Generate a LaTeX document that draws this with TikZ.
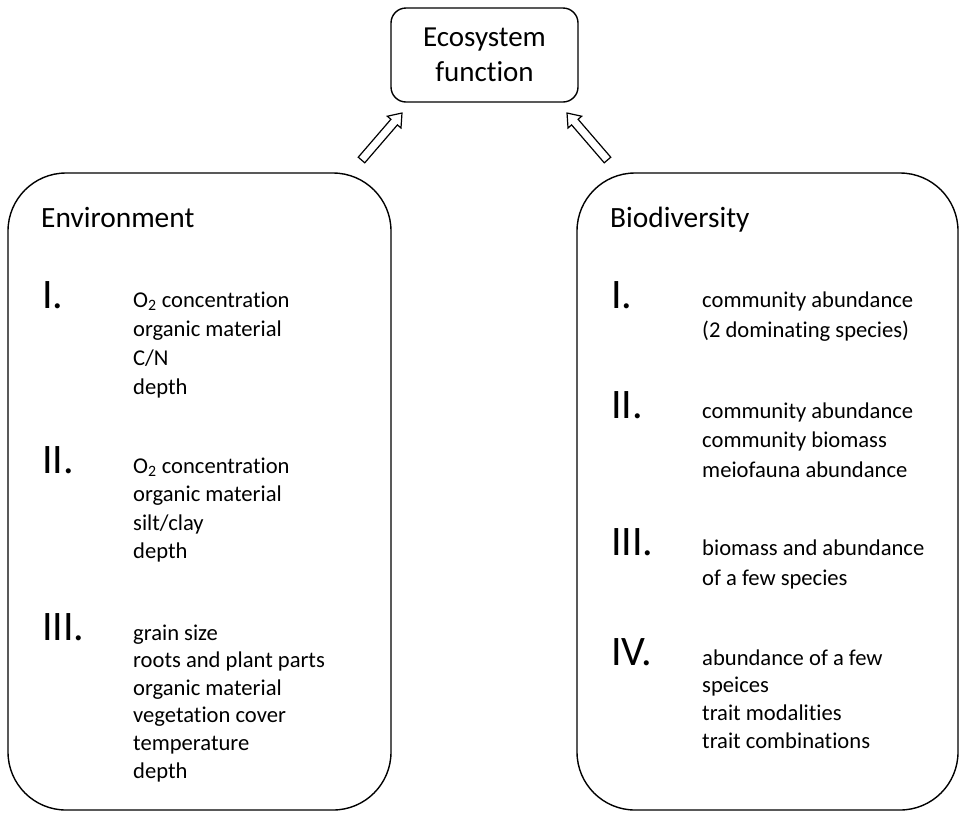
\documentclass[tikz,border=0pt]{standalone}
\usepackage{fontspec}
\setmainfont{Carlito}[Ligatures=NoCommon]
\usetikzlibrary{calc}
\tikzset{
    ecobox/.style={draw, line width=1.4pt, rounded corners=58pt, minimum width=383pt, minimum height=637pt},
    topbox/.style={draw, line width=1.4pt, rounded corners=15pt, minimum width=187pt, minimum height=94pt, align=center, font=\fontsize{29}{35}\selectfont},
    boxhead/.style={anchor=base west, inner sep=0pt, font=\fontsize{29.4}{35}\selectfont},
    numeral/.style={anchor=base west, inner sep=0pt, font=\fontsize{42}{50}\selectfont},
    factor/.style={anchor=base west, inner sep=0pt, font=\fontsize{22.6}{27}\selectfont},
    hollowarrow/.style={line width=1.2pt, line join=miter, to path={
        let \p1=(\tikztostart), \p2=(\tikztotarget),
            \n1={atan2(\y2-\y1,\x2-\x1)}, \n2={veclen(\x2-\x1,\y2-\y1)} in
        ([shift={(\p1)},rotate=\n1]0pt,4.3pt)
        -- ([shift={(\p1)},rotate=\n1]\n2-12pt,4.3pt)
        -- ([shift={(\p1)},rotate=\n1]\n2-12pt,9pt)
        -- ([shift={(\p1)},rotate=\n1]\n2,0pt)
        -- ([shift={(\p1)},rotate=\n1]\n2-12pt,-9pt)
        -- ([shift={(\p1)},rotate=\n1]\n2-12pt,-4.3pt)
        -- ([shift={(\p1)},rotate=\n1]0pt,-4.3pt) -- cycle}}
}

\begin{document}
\begin{tikzpicture}[x=1pt, y=-1pt]
  \useasboundingbox (0,0) rectangle (960,812);
  \node[topbox] (eco) at (484.5,55) {Ecosystem\\function};
  \node[ecobox] (env) at (199.5,491.5) {};
  \node[ecobox, minimum width=381pt] (bio) at (767.5,491.5) {};

  \coordinate (envtail) at (361.5,160);
  \coordinate (envtip) at (402,113);
  \coordinate (biotail) at (607.5,160);
  \coordinate (biotip) at (567,113);
  \draw[hollowarrow] (envtail) to (envtip);
  \draw[hollowarrow] (biotail) to (biotip);

  \node[boxhead] (envhead) at (41,227) {Environment};
  \node[boxhead] (biohead) at (610,227) {Biodiversity};

  \node[numeral] (envnum1) at (42,308) {I.};
  \node[numeral] (envnum2) at (42,473) {II.};
  \node[numeral] (envnum3) at (42,640) {III.};
  \foreach \t [count=\i] in {O\textsubscript{2} concentration, organic material, C/N, depth}
    \node[factor] (envI\i) at (133,278+29*\i) {\t};
  \foreach \t [count=\i] in {O\textsubscript{2} concentration, organic material, silt/clay, depth}
    \node[factor] (envII\i) at (133,444.5+28.5*\i) {\t};
  \foreach \t [count=\i] in {grain size, roots and plant parts, organic material, vegetation cover, temperature, depth}
    \node[factor] (envIII\i) at (133,612.4+27.6*\i) {\t};

  \node[numeral] (bionum1) at (611,308) {I.};
  \node[numeral] (bionum2) at (611,418) {II.};
  \node[numeral] (bionum3) at (611,555) {III.};
  \node[numeral] (bionum4) at (611,665) {IV.};
  \foreach \t [count=\i] in {community abundance, (2 dominating species)}
    \node[factor] (bioI\i) at (702,277+30*\i) {\t};
  \foreach \t [count=\i] in {community abundance, community biomass, meiofauna abundance}
    \node[factor] (bioII\i) at (702,388.5+29.5*\i) {\t};
  \foreach \t [count=\i] in {biomass and abundance, of a few species}
    \node[factor] (bioIII\i) at (702,525+30*\i) {\t};
  \foreach \t [count=\i] in {abundance of a few, speices, trait modalities, trait combinations}
    \node[factor] (bioIV\i) at (702,637.3+27.7*\i) {\t};
\end{tikzpicture}
\end{document}
